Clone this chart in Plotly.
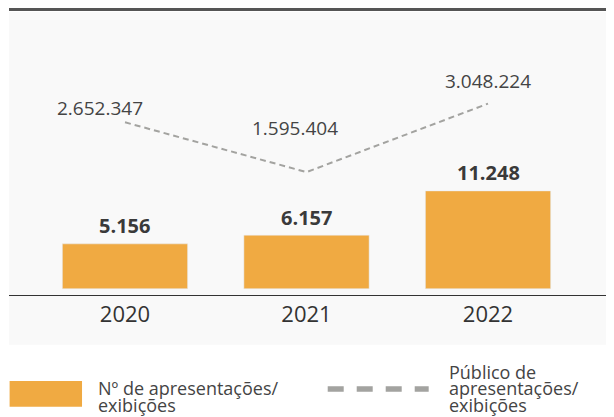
import plotly.graph_objects as go

# dados
anos = ["2020", "2021", "2022"]
apresentacoes = [5156, 6157, 11248]
publico = [2652347, 1595404, 3048224]

laranja = "#f0aa42"
cinza = "#a3a3a0"
fonte = "Open Sans"


def fmt(v):
    return f"{v:,}".replace(",", ".")


fig = go.Figure()

fig.add_trace(go.Bar(
    x=anos, y=apresentacoes, marker_color=laranja, width=0.69,
    hoverinfo="skip", showlegend=False,
))

fig.add_trace(go.Scatter(
    x=anos, y=publico, yaxis="y2", mode="lines",
    line=dict(color=cinza, width=2, dash="6px,4px"),
    hoverinfo="skip", showlegend=False,
))

# rótulos das barras (x pelo índice da categoria)
for i, v in enumerate(apresentacoes):
    fig.add_annotation(x=i, y=v, yref="y", text="<b>" + fmt(v) + "</b>",
                       showarrow=False, yanchor="middle", yshift=18,
                       font=dict(size=20, color="#3a3a3a", family=fonte))

# rótulos da linha
desloc = [(-25, 14), (-12, 44), (0, 23)]
for i, (v, (dx, dy)) in enumerate(zip(publico, desloc)):
    fig.add_annotation(x=i, y=v, yref="y2", text=fmt(v), showarrow=False,
                       xshift=dx, yshift=dy, yanchor="middle",
                       font=dict(size=19, color="#444", family=fonte))

# fundo cinza e linha superior
fig.add_shape(type="rect", xref="paper", yref="paper", x0=0, x1=1,
              y0=-0.1756, y1=1, fillcolor="#f9f9f9", line_width=0, layer="below")
fig.add_shape(type="line", xref="paper", yref="paper", x0=0, x1=1,
              y0=1.0088, y1=1.0088, line=dict(color="#555", width=3))

# legenda manual
fig.add_shape(type="rect", xref="paper", yref="paper", x0=0.001, x1=0.1207,
              y0=-0.3947, y1=-0.3039, fillcolor=laranja, line_width=0)
fig.add_shape(type="line", xref="paper", yref="paper", x0=0.5268, x1=0.6937,
              y0=-0.3322, y1=-0.3322, line=dict(color=cinza, width=5.5, dash="16px,13px"))

leg = [
    (0.1438, -0.3286, "Nº de apresentações/"),
    (0.1438, -0.3887, "exibições"),
    (0.724, -0.272, "Público de"),
    (0.724, -0.3286, "apresentações/"),
    (0.724, -0.3887, "exibições"),
]
for lx, ly, t in leg:
    fig.add_annotation(x=lx, y=ly, xref="paper", yref="paper", text=t,
                       showarrow=False, xanchor="left", yanchor="middle",
                       font=dict(size=18, color="#444", family=fonte))

# a página tem 8px de margem, por isso a figura é 8px menor
fig.update_layout(
    width=606, height=409,
    margin=dict(l=1, r=0, t=4, b=122),
    paper_bgcolor="white", plot_bgcolor="#f9f9f9",
    font=dict(family=fonte, color="#333"),
    xaxis=dict(type="category", range=[-0.639, 2.694], showline=True,
               linecolor="#333", linewidth=1, ticks="", showgrid=False,
               tickfont=dict(size=22, color="#333"), ticklabelstandoff=0),
    yaxis=dict(range=[-725, 31820], visible=False, showgrid=False),
    yaxis2=dict(range=[-1011581, 4991814], overlaying="y", visible=False,
                showgrid=False),
    showlegend=False,
)

fig.write_html("out.html")
